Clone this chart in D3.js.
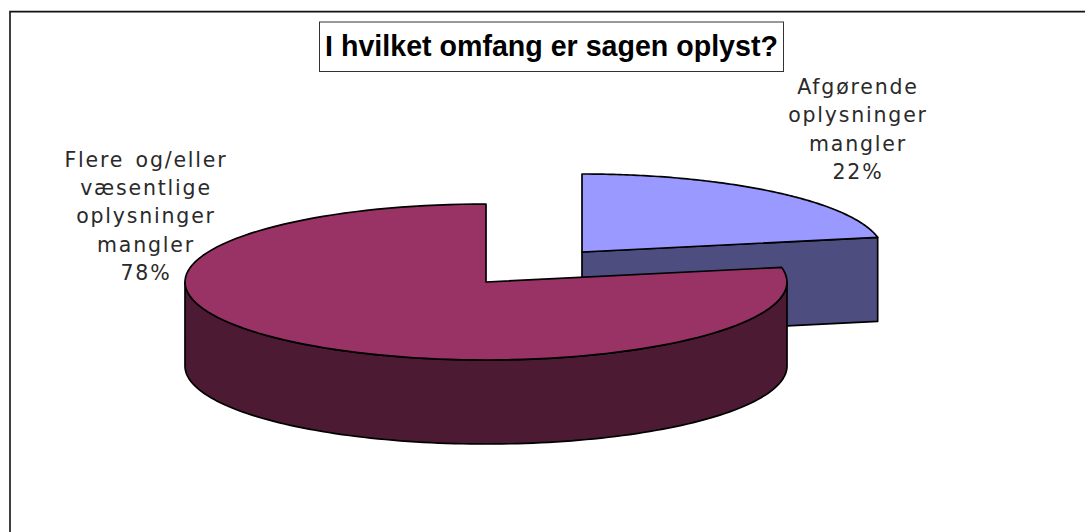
<!DOCTYPE html>
<html><head><meta charset="utf-8">
<script src="https://cdnjs.cloudflare.com/ajax/libs/d3/7.8.5/d3.min.js"></script>
<style>html,body{margin:0;padding:0;background:#fff;overflow:hidden}svg{display:block}</style>
</head><body><svg id="c" width="1085" height="532"></svg>
<script>
const categories = ["Afgørende oplysninger mangler", "Flere og/eller væsentlige oplysninger mangler"];
const labelLines = [["Afgørende","oplysninger","mangler","22%"],["Flere og/eller","væsentlige","oplysninger","mangler","78%"]];
const values = [22, 78];
const topColors = ["#9999ff", "#993366"];
const wallColors = ["#4d4d80", "#4d1a33"];
const titleText = "I hvilket omfang er sagen oplyst?";

const svg = d3.select("#c");
const rx = 301, ry = 78, depth = 84;
const centers = [[582, 252], [486, 282]];
const labelPos = [[858, 94], [146, 166.7]];
const lineGap = 28.3;

const pie = d3.pie().sort(null).value(d => d);
const arcs = pie(values);
const pt = (c, a, dy = 0) => [c[0] + rx * Math.sin(a), c[1] - ry * Math.cos(a) + dy];
const line = d3.line();
const rim = (c, a0, a1, dy = 0) => d3.range(0, 121).map(i => pt(c, a0 + (a1 - a0) * i / 120, dy));
const stroke = (s) => s.attr("stroke", "#000").attr("stroke-width", 1.7).attr("stroke-linejoin", "round");

svg.append("path").attr("d", "M10,532V11.6H1085").attr("fill", "none").attr("stroke", "#111").attr("stroke-width", 1.6);

[0, 1].forEach(i => {
  const c = centers[i], a = arcs[i];
  const g = svg.append("g");
  if (i === 0) {
    const e = pt(c, a.endAngle);
    g.append("path").attr("d", line([c, e, [e[0], e[1] + depth], [c[0], c[1] + depth]]) + "Z").attr("fill", wallColors[i]).call(stroke);
  } else {
    const w0 = Math.PI / 2, w1 = 3 * Math.PI / 2;
    const outer = rim(c, w0, w1).concat(rim(c, w1, w0, depth));
    g.append("path").attr("d", line(outer) + "Z").attr("fill", wallColors[i]).call(stroke);
  }
  g.append("path").attr("d", line([c].concat(rim(c, a.startAngle, a.endAngle))) + "Z").attr("fill", topColors[i]).call(stroke);
  const t = svg.append("text").attr("text-anchor", "middle").attr("font-family", "'DejaVu Sans'").attr("font-size", 20.5).attr("letter-spacing", 1.8).attr("word-spacing", 3).attr("fill", "#2a2a2a");
  labelLines[i].forEach((s, k) => t.append("tspan").attr("x", labelPos[i][0]).attr("y", labelPos[i][1] + k * lineGap).text(s));
});

svg.append("rect").attr("x", 319.5).attr("y", 22).attr("width", 464).attr("height", 49.5).attr("fill", "#fff").attr("stroke", "#333").attr("stroke-width", 1);
svg.append("text").attr("x", 551.5).attr("y", 56).attr("text-anchor", "middle").attr("font-family", "'Liberation Sans'").attr("font-weight", "bold").attr("font-size", 28.6).attr("fill", "#000").text(titleText);
</script></body></html>
